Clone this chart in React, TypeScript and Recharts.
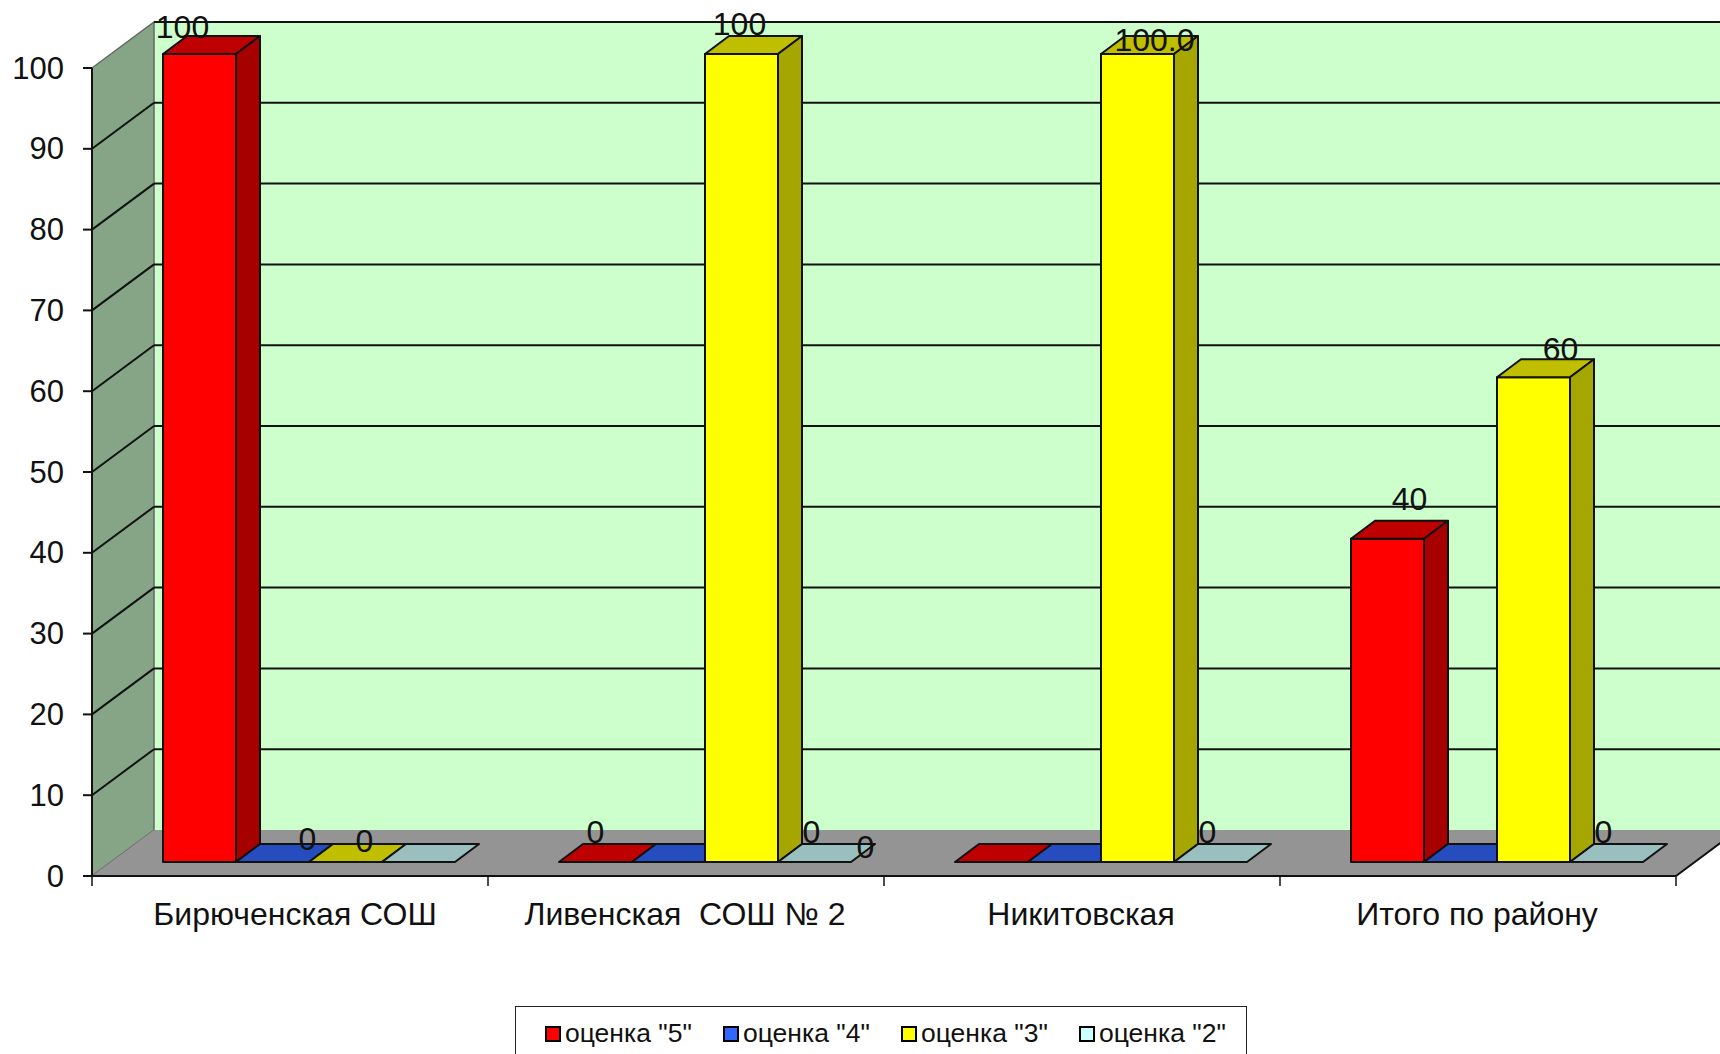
import { BarChart, Bar, XAxis, YAxis, CartesianGrid, Customized, Legend, LabelList } from "recharts";

const categories = ["Бирюченская СОШ", "Ливенская  СОШ № 2", "Никитовская", "Итого по району"];
const grade5 = [100, 0, 0, 40];
const grade4 = [0, 0, 0, 0];
const grade3 = [0, 100, 100, 60];
const grade2 = [0, 0, 0, 0];
const labels5 = ["100", "0", null, "40"];
const labels4 = ["0", "0", null, null];
const labels3 = ["0", "100", "100.0", "60"];
const labels2 = [null, "0", "0", "0"];
const yTicks = [0, 10, 20, 30, 40, 50, 60, 70, 80, 90, 100];

const data = categories.map((name, i) => ({
  name,
  grade5: grade5[i],
  grade4: grade4[i],
  grade3: grade3[i],
  grade2: grade2[i],
  labels5: labels5[i],
  labels4: labels4[i],
  labels3: labels3[i],
  labels2: labels2[i],
}));

const FONT = "'Liberation Sans', Arial, sans-serif";
const INK = "#111";

// the bars stand a little behind the front edge of the floor
const PLOT = { left: 110, right: 1694, top: 54, bottom: 862 };
const BAR_PLANE = { dx: 18, dy: -14 };
const WALL = { dx: 62, dy: -46 };
const BAR_DEPTH = { dx: 24, dy: -18 };

const frontLeft = PLOT.left - BAR_PLANE.dx;
const frontRight = PLOT.right - BAR_PLANE.dx;
const frontTop = PLOT.top - BAR_PLANE.dy;
const frontBottom = PLOT.bottom - BAR_PLANE.dy;

// hand placed data labels from the original: [dx from bar centre, dy from bar top]
const nudges: Record<string, [number, number][]> = {
  labels5: [[-17, -27], [0, -30], [0, 0], [22, -40]],
  labels4: [[35, -23], [197, -15], [0, 0], [0, 0]],
  labels3: [[19, -21], [-2, -30], [17, -14], [27, -28]],
  labels2: [[0, 0], [-3, -30], [-3, -30], [-3, -30]],
};

function Walls() {
  const backLeft = frontLeft + WALL.dx;
  const backTop = frontTop + WALL.dy;
  const backBottom = frontBottom + WALL.dy;
  const backRight = frontRight + WALL.dx;
  return (
    <g>
      <rect x={backLeft} y={backTop} width={backRight - backLeft} height={backBottom - backTop} fill="#CCFFCC" />
      <polygon
        points={`${frontLeft},${frontTop} ${backLeft},${backTop} ${backLeft},${backBottom} ${frontLeft},${frontBottom}`}
        fill="#86A586"
        stroke="#666"
        strokeWidth={1.5}
      />
      <polygon
        points={`${frontLeft},${frontBottom} ${backLeft},${backBottom} ${backRight},${backBottom} ${frontRight},${frontBottom}`}
        fill="#949494"
      />
      <line x1={frontLeft} y1={frontTop} x2={frontLeft} y2={frontBottom} stroke={INK} strokeWidth={2} />
      <line x1={frontLeft} y1={frontBottom} x2={frontRight} y2={frontBottom} stroke={INK} strokeWidth={2} />
      <line x1={frontRight} y1={frontBottom} x2={backRight} y2={backBottom} stroke={INK} strokeWidth={2} />
    </g>
  );
}

function gridLine(props: any) {
  const front = props.y1 - BAR_PLANE.dy;
  if (front >= frontBottom - 1) return <g key={props.key} />;
  const isTop = front <= frontTop + 1;
  const xBack = frontLeft + WALL.dx;
  const yBack = front + WALL.dy;
  return (
    <g key={props.key}>
      {!isTop && <line x1={frontLeft} y1={front} x2={xBack} y2={yBack} stroke={INK} strokeWidth={2} />}
      <line x1={xBack} y1={yBack} x2={frontRight + WALL.dx} y2={yBack} stroke={INK} strokeWidth={2} />
    </g>
  );
}

function shade(rgb: number[], k: number) {
  return `rgb(${rgb.map((c) => Math.round(c * k)).join(",")})`;
}

function cuboid(rgb: number[]) {
  return (props: any) => {
    const { x, y, width, height } = props;
    const d = BAR_DEPTH;
    const right = x + width;
    const bottom = y + height;
    return (
      <g stroke={INK} strokeWidth={2} strokeLinejoin="round">
        {height > 0 && <rect x={x} y={y} width={width} height={height} fill={shade(rgb, 1)} />}
        <polygon
          points={`${x},${y} ${x + d.dx},${y + d.dy} ${right + d.dx},${y + d.dy} ${right},${y}`}
          fill={shade(rgb, 0.75)}
        />
        {height > 0 && (
          <polygon
            points={`${right},${y} ${right + d.dx},${y + d.dy} ${right + d.dx},${bottom + d.dy} ${right},${bottom}`}
            fill={shade(rgb, 0.65)}
          />
        )}
      </g>
    );
  };
}

function barLabel(key: string) {
  return (props: any) => {
    const { x, y, width, value, index } = props;
    if (value == null) return null;
    const [dx, dy] = nudges[key][index];
    return (
      <text
        x={x + width / 2 + dx}
        y={y + dy}
        textAnchor="middle"
        dominantBaseline="central"
        fontFamily={FONT}
        fontSize={32}
        fill={INK}
      >
        {value}
      </text>
    );
  };
}

function YTick(props: any) {
  const y = props.y - BAR_PLANE.dy;
  return (
    <g>
      <line x1={frontLeft - 9} y1={y} x2={frontLeft} y2={y} stroke={INK} strokeWidth={2} />
      <text x={64} y={y} textAnchor="end" dominantBaseline="central" fontFamily={FONT} fontSize={31} fill={INK}>
        {props.payload.value}
      </text>
    </g>
  );
}

const BAND = (PLOT.right - PLOT.left) / categories.length;

function XTick(props: any) {
  const x = props.x - BAR_PLANE.dx;
  return (
    <g>
      <line x1={x + BAND / 2} y1={frontBottom} x2={x + BAND / 2} y2={frontBottom + 10} stroke={INK} strokeWidth={1.5} />
      {props.index === 0 && (
        <line x1={x - BAND / 2} y1={frontBottom} x2={x - BAND / 2} y2={frontBottom + 10} stroke={INK} strokeWidth={1.5} />
      )}
      <text
        x={props.index === 0 ? x + 5 : x - 1}
        y={914}
        textAnchor="middle"
        dominantBaseline="central"
        fontFamily={FONT}
        fontSize={32}
        fill={INK}
        style={{ whiteSpace: "pre" }}
      >
        {props.payload.value}
      </text>
    </g>
  );
}

const legendItems = [
  { label: 'оценка "5"', color: "#FF0000" },
  { label: 'оценка "4"', color: "#3366FF" },
  { label: 'оценка "3"', color: "#FFFF00" },
  { label: 'оценка "2"', color: "#CCFFFF" },
];

function LegendBox() {
  return (
    <div
      style={{
        boxSizing: "border-box",
        width: 732,
        height: 60,
        border: "1.5px solid #222",
        borderBottom: "none",
        background: "#fff",
        display: "flex",
        alignItems: "center",
        paddingLeft: 29,
        paddingBottom: 6,
        fontFamily: FONT,
        fontSize: 26.5,
        color: INK,
      }}
    >
      {legendItems.map((it) => (
        <span
          key={it.label}
          style={{ display: "flex", alignItems: "center", flex: "0 0 178px", whiteSpace: "nowrap" }}
        >
          <span
            style={{
              display: "inline-block",
              boxSizing: "border-box",
              width: 16,
              height: 16,
              marginRight: 4,
              border: "2px solid #000",
              background: it.color,
            }}
          />
          {it.label}
        </span>
      ))}
    </div>
  );
}

export default function App() {
  return (
    <div style={{ position: "absolute", left: 0, top: 0, width: 1720, height: 1054, overflow: "hidden", background: "#fff" }}>
      <BarChart
        width={1720}
        height={1054}
        data={data}
        margin={{ top: PLOT.top, right: 1720 - PLOT.right, bottom: 0, left: 0 }}
        barCategoryGap={53}
        barGap={0}
      >
        <Customized component={Walls} />
        <CartesianGrid vertical={false} horizontal={gridLine} stroke={INK} zIndex={100} />
        <XAxis dataKey="name" height={132} axisLine={false} tickLine={false} tick={XTick} interval={0} />
        <YAxis width={PLOT.left} domain={[0, 100]} ticks={yTicks} axisLine={false} tickLine={false} tick={YTick} />
        <Legend
          content={LegendBox}
          height={60}
          wrapperStyle={{ position: "absolute", left: 515, top: 1006, bottom: "auto", width: 732 }}
        />
        <Bar dataKey="grade5" isAnimationActive={false} shape={cuboid([255, 0, 0])}>
          <LabelList dataKey="labels5" content={barLabel("labels5")} />
        </Bar>
        <Bar dataKey="grade4" isAnimationActive={false} shape={cuboid([51, 102, 255])}>
          <LabelList dataKey="labels4" content={barLabel("labels4")} />
        </Bar>
        <Bar dataKey="grade3" isAnimationActive={false} shape={cuboid([255, 255, 0])}>
          <LabelList dataKey="labels3" content={barLabel("labels3")} />
        </Bar>
        <Bar dataKey="grade2" isAnimationActive={false} shape={cuboid([204, 255, 255])}>
          <LabelList dataKey="labels2" content={barLabel("labels2")} />
        </Bar>
      </BarChart>
    </div>
  );
}
